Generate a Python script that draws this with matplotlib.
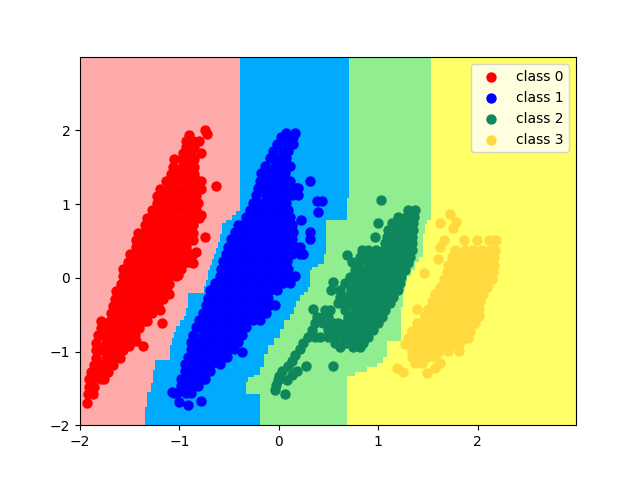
import matplotlib

matplotlib.use("Agg")
import matplotlib.pyplot as plt
import numpy as np
from matplotlib.colors import ListedColormap

# decision boundaries: (lowest y of the step, x of the boundary)
boundary_01 = [(1.33, -0.393), (0.92, -0.386), (0.86, -0.426), (0.80, -0.477), (0.76, -0.52),
               (0.60, -0.575), (0.50, -0.59), (0.42, -0.605), (0.33, -0.625), (0.244, -0.645),
               (0.17, -0.665), (0.108, -0.685), (0.04, -0.70), (-0.027, -0.716), (-0.11, -0.73),
               (-0.205, -0.746), (-0.30, -0.90), (-0.40, -0.91), (-0.50, -0.925), (-0.57, -0.95),
               (-0.64, -0.99), (-0.72, -1.02), (-0.80, -1.05), (-0.90, -1.06), (-1.11, -1.08),
               (-1.25, -1.24), (-1.43, -1.27), (-1.55, -1.29), (-1.65, -1.32), (-1.745, -1.33),
               (-2.1, -1.35)]
boundary_12 = [(1.10, 0.716), (0.80, 0.682), (0.34, 0.474), (0.2, 0.447), (0.16, 0.40),
               (0.12, 0.34), (-0.12, 0.31), (-0.18, 0.29), (-0.23, 0.25), (-0.31, 0.22),
               (-0.39, 0.18), (-0.48, 0.15), (-0.57, 0.11), (-0.68, 0.06), (-0.80, 0.01),
               (-0.91, -0.05), (-1.02, -0.11), (-1.20, -0.15), (-1.30, -0.19), (-1.35, -0.24),
               (-1.40, -0.30), (-1.57, -0.333), (-2.1, -0.185)]
boundary_23 = [(0.786, 1.53), (0.73, 1.49), (0.60, 1.475), (0.285, 1.457), (0.22, 1.42),
               (0.108, 1.37), (0.03, 1.33), (-0.05, 1.30), (-0.163, 1.28), (-0.39, 1.255),
               (-0.84, 1.23), (-1.07, 1.09), (-1.15, 1.045), (-1.2, 1.0), (-1.27, 0.90),
               (-1.33, 0.78), (-1.38, 0.70), (-2.1, 0.695)]

# points listed row by row: (y, [x, x, ...])
class0_rows = [
    (-1.69, [-1.93]),
    (-1.58, [-1.92, -1.87]),
    (-1.475, [-1.905, -1.855]),
    (-1.375, [-1.905, -1.87, -1.785, -1.754]),
    (-1.275, [-1.89, -1.828, -1.743, -1.72]),
    (-1.175, [-1.855, -1.785, -1.70, -1.67]),
    (-1.08, [-1.84, -1.743, -1.658, -1.60]),
    (-0.98, [-1.84, -1.785, -1.70, -1.615, -1.57]),
    (-0.88, [-1.84, -1.743, -1.658, -1.573, -1.52]),
    (-0.78, [-1.82, -1.785, -1.70, -1.615, -1.53, -1.445]),
    (-0.68, [-1.79, -1.743, -1.658, -1.573, -1.488, -1.403]),
    (-0.58, [-1.79, -1.70, -1.615, -1.53, -1.445, -1.36, -1.33]),
    (-0.48, [-1.69, -1.658, -1.573, -1.488, -1.403, -1.318, -1.28]),
    (-0.38, [-1.67, -1.615, -1.53, -1.445, -1.36, -1.275, -1.22]),
    (-0.28, [-1.65, -1.573, -1.488, -1.403, -1.318, -1.233, -1.17]),
    (-0.18, [-1.64, -1.615, -1.53, -1.445, -1.36, -1.275, -1.19, -1.12]),
    (-0.08, [-1.59, -1.573, -1.488, -1.403, -1.318, -1.233, -1.148, -1.10]),
    (0.02, [-1.57, -1.53, -1.445, -1.36, -1.275, -1.19, -1.105, -1.03]),
    (0.12, [-1.57, -1.488, -1.403, -1.318, -1.233, -1.148, -1.063, -0.98]),
    (0.22, [-1.52, -1.445, -1.36, -1.275, -1.19, -1.105, -1.02, -0.935, -0.90]),
    (0.32, [-1.50, -1.403, -1.318, -1.233, -1.148, -1.063, -0.978, -0.893, -0.86]),
    (0.415, [-1.435, -1.36, -1.275, -1.19, -1.105, -1.02, -0.935]),
    (0.515, [-1.435, -1.403, -1.318, -1.233, -1.148, -1.063, -0.978, -0.893, -0.86]),
    (0.615, [-1.42, -1.36, -1.275, -1.19, -1.105, -1.02, -0.935, -0.86]),
    (0.715, [-1.35, -1.318, -1.233, -1.148, -1.063, -0.978, -0.893, -0.86]),
    (0.815, [-1.33, -1.275, -1.19, -1.105, -1.02, -0.935, -0.85, -0.80]),
    (0.915, [-1.28, -1.233, -1.148, -1.063, -0.978, -0.893, -0.83]),
    (1.01, [-1.23, -1.19, -1.105, -1.02, -0.935, -0.85, -0.81]),
    (1.11, [-1.23, -1.148, -1.063, -0.978, -0.893, -0.83]),
    (1.21, [-1.20, -1.105, -1.02, -0.935, -0.85, -0.78]),
    (1.31, [-1.13, -1.063, -0.978, -0.893, -0.808, -0.78]),
    (1.41, [-1.08, -1.02, -0.935, -0.85]),
    (1.51, [-1.065, -0.978, -0.893, -0.85]),
    (1.61, [-1.05, -0.97, -0.90, -0.85]),
    (1.69, [-0.96, -0.88, -0.78]),
    (1.78, [-0.93, -0.85]),
    (1.86, [-0.93, -0.86, -0.80]),
    (1.94, [-0.90]),
    (1.95, [-0.72]),
    (2.01, [-0.746]),
    # stragglers on the right edge
    (-0.93, [-1.368]), (-0.86, [-1.435]), (-0.92, [-1.51]), (-0.615, [-1.173]),
    (-0.44, [-1.20]), (-0.217, [-1.10]), (0.04, [-1.015]), (0.207, [-0.864]),
    (0.357, [-0.83]), (0.56, [-0.746]), (1.25, [-0.63]), (0.85, [-0.78]),
]

class1_rows = [
    (-1.72, [-0.914]),
    (-1.68, [-1.00]),
    (-1.67, [-0.78]),
    (-1.55, [-1.075]),
    (-1.565, [-1.05, -1.02, -0.935, -0.88]),
    (-1.465, [-0.98, -0.893, -0.81]),
    (-1.365, [-0.98, -0.935, -0.85, -0.765, -0.746]),
    (-1.265, [-0.947, -0.893, -0.808, -0.723, -0.695]),
    (-1.165, [-0.947, -0.85, -0.765, -0.68, -0.595]),
    (-1.07, [-0.914, -0.893, -0.808, -0.723, -0.638, -0.553, -0.52]),
    (-1.01, [-0.37]),
    (-0.97, [-0.88, -0.85, -0.765, -0.68, -0.595, -0.51, -0.453]),
    (-0.87, [-0.88, -0.808, -0.723, -0.638, -0.553, -0.468, -0.41]),
    (-0.77, [-0.863, -0.765, -0.68, -0.595, -0.51, -0.425, -0.366]),
    (-0.67, [-0.836, -0.808, -0.723, -0.638, -0.553, -0.468, -0.383, -0.326]),
    (-0.57, [-0.80, -0.765, -0.68, -0.595, -0.51, -0.425, -0.34, -0.255, -0.19]),
    (-0.47, [-0.763, -0.723, -0.638, -0.553, -0.468, -0.383, -0.298, -0.213, -0.124]),
    (-0.37, [-0.73, -0.68, -0.595, -0.51, -0.425, -0.34, -0.255, -0.17, -0.085, -0.04]),
    (-0.27, [-0.71, -0.638, -0.553, -0.468, -0.383, -0.298, -0.213, -0.128, -0.107]),
    (-0.17, [-0.69, -0.68, -0.595, -0.51, -0.425, -0.34, -0.255, -0.17, -0.085, -0.023]),
    (-0.07, [-0.645, -0.553, -0.468, -0.383, -0.298, -0.213, -0.128, -0.043, 0.043, 0.11]),
    (0.027, [-0.595, -0.51, -0.425, -0.34, -0.255, -0.17, -0.085, 0.0, 0.085, 0.16]),
    (0.126, [-0.578, -0.553, -0.468, -0.383, -0.298, -0.213, -0.128, -0.043, 0.043, 0.094]),
    (0.225, [-0.56, -0.51, -0.425, -0.34, -0.255, -0.17, -0.085, 0.0, 0.085]),
    (0.325, [-0.527, -0.468, -0.383, -0.298, -0.213, -0.128, -0.043, 0.043, 0.128, 0.213, 0.245]),
    (0.424, [-0.51, -0.425, -0.34, -0.255, -0.17, -0.085, 0.0, 0.085, 0.17, 0.21]),
    (0.524, [-0.477, -0.468, -0.383, -0.298, -0.213, -0.128, -0.043, 0.043, 0.128, 0.313]),
    (0.623, [-0.443, -0.425, -0.34, -0.255, -0.17, -0.085, 0.0, 0.085, 0.145, 0.313]),
    (0.723, [-0.41, -0.383, -0.298, -0.213, -0.128, -0.043, 0.043, 0.128]),
    (0.786, [0.222]),
    (0.822, [-0.326, -0.255, -0.17, -0.085, 0.0, 0.085, 0.11]),
    (0.90, [0.397]),
    (0.922, [-0.292, -0.213, -0.128, -0.043, 0.043, 0.094]),
    (1.02, [-0.26, -0.17, -0.085, 0.0, 0.077]),
    (1.04, [0.38, 0.43]),
    (1.12, [-0.225, -0.128, -0.043, 0.043, 0.128, 0.195]),
    (1.22, [-0.208, -0.17, -0.085, 0.0, 0.085, 0.17, 0.195]),
    (1.32, [-0.19, -0.128, -0.043, 0.043, 0.11, 0.313]),
    (1.42, [-0.175, -0.085, 0.0, 0.06]),
    (1.52, [-0.14, -0.043, 0.043, 0.11]),
    (1.62, [-0.09, 0.0, 0.077]),
    (1.72, [-0.057, 0.043, 0.094]),
    (1.82, [-0.023, 0.085, 0.145]),
    (1.915, [0.027, 0.09, 0.145]),
    (1.96, [0.077, 0.16]),
]

class2_rows = [
    (0.92, [1.304, 1.37]),
    (0.83, [1.203, 1.275, 1.36]),
    (0.74, [1.136, 1.233, 1.318, 1.354]),
    (0.65, [1.10, 1.19, 1.275, 1.354]),
    (0.56, [1.085, 1.148, 1.233, 1.318, 1.337]),
    (0.47, [1.07, 1.105, 1.19, 1.275, 1.337]),
    (0.38, [0.833, 0.893, 0.978, 1.063, 1.148, 1.233, 1.318, 1.337]),
    (0.29, [0.817, 0.85, 0.935, 1.02, 1.105, 1.19, 1.275, 1.32]),
    (0.20, [0.80, 0.893, 0.978, 1.063, 1.148, 1.233, 1.30]),
    (0.108, [0.766, 0.85, 0.935, 1.02, 1.105, 1.19, 1.27]),
    (0.018, [0.716, 0.808, 0.893, 0.978, 1.063, 1.148, 1.233]),
    (-0.073, [0.665, 0.765, 0.85, 0.935, 1.02, 1.105, 1.19, 1.22]),
    (-0.163, [0.615, 0.723, 0.808, 0.893, 0.978, 1.063, 1.148, 1.203]),
    (-0.253, [0.615, 0.68, 0.765, 0.85, 0.935, 1.02, 1.105, 1.15]),
    (-0.344, [0.598, 0.638, 0.723, 0.808, 0.893, 0.978, 1.063, 1.12]),
    (-0.434, [0.464, 0.514, 0.665, 0.765, 0.85, 0.935, 1.02, 1.07]),
    (-0.525, [0.38, 0.44, 0.50, 0.70, 0.723, 0.808, 0.893, 0.978, 1.035]),
    (-0.615, [0.363, 0.447, 0.50, 0.548, 0.60, 0.68, 0.765, 0.85, 0.935, 1.0]),
    (-0.705, [0.33, 0.50, 0.548, 0.60, 0.665, 0.723, 0.808, 0.893, 0.95]),
    (-0.796, [0.296, 0.36, 0.413, 0.50, 0.58, 0.65, 0.68, 0.765, 0.85, 0.90]),
    (-0.886, [0.245, 0.565, 0.68, 0.723, 0.808, 0.85]),
    (-0.94, [0.615, 0.75, 0.817]),
    # lower tail and loose points
    (-0.97, [0.21]), (-1.04, [0.16]), (-1.12, [0.13]), (-1.20, [0.09]),
    (-1.19, [0.272, 0.547]), (-1.26, [0.03, 0.18]), (-1.31, [0.13]), (-1.33, [0.0]),
    (-1.38, [-0.01, 0.08]), (-1.45, [-0.03]), (-1.52, [-0.04]), (-1.58, [0.067]),
    (1.05, [1.03]), (0.75, [1.0]), (0.55, [0.97]), (0.31, [0.69]), (0.21, [0.74]),
    (-0.06, [0.55]), (-0.17, [0.53]), (-0.42, [0.346]),
]

class3_rows = [
    (0.38, [1.774, 1.87, 1.955, 2.04, 2.125, 2.177]),
    (0.28, [1.74, 1.828, 1.913, 1.998, 2.083, 2.168]),
    (0.18, [1.707, 1.785, 1.87, 1.955, 2.04, 2.125, 2.17]),
    (0.08, [1.69, 1.743, 1.828, 1.913, 1.998, 2.083, 2.16]),
    (-0.018, [1.663, 1.70, 1.785, 1.87, 1.955, 2.04, 2.125, 2.144]),
    (-0.117, [1.623, 1.658, 1.743, 1.828, 1.913, 1.998, 2.083, 2.093]),
    (-0.217, [1.573, 1.615, 1.70, 1.785, 1.87, 1.955, 2.04, 2.053]),
    (-0.316, [1.539, 1.573, 1.658, 1.743, 1.828, 1.913, 1.998, 2.02]),
    (-0.415, [1.505, 1.53, 1.615, 1.70, 1.785, 1.87, 1.955, 2.01]),
    (-0.515, [1.47, 1.488, 1.573, 1.658, 1.743, 1.828, 1.913, 1.998, 2.01]),
    (-0.615, [1.388, 1.445, 1.53, 1.615, 1.70, 1.785, 1.87, 1.955, 1.976]),
    (-0.714, [1.337, 1.403, 1.488, 1.573, 1.658, 1.743, 1.828, 1.913, 1.925]),
    (-0.813, [1.304, 1.36, 1.445, 1.53, 1.615, 1.70, 1.785, 1.87, 1.908]),
    (-0.895, [1.27, 1.318, 1.403, 1.488, 1.573, 1.658, 1.743, 1.808]),
    (-0.985, [1.337, 1.36, 1.445, 1.53, 1.615, 1.707]),
    (-1.075, [1.337, 1.403, 1.488, 1.573]),
    (-1.157, [1.37, 1.44]),
    # loose points around the cluster
    (0.87, [1.72]), (0.75, [1.623]), (0.76, [1.784]), (0.67, [1.757]), (0.515, [1.657]),
    (0.425, [1.623]), (0.515, [1.865, 1.993, 2.117, 2.188]), (0.253, [1.606]),
    (0.063, [1.465]), (-0.42, [1.388]), (-1.216, [1.186]), (-1.27, [1.253]),
    (-1.29, [1.489]), (-1.225, [1.573]), (-1.157, [1.623]), (-0.985, [1.815]),
]

class_labels = ["class 0", "class 1", "class 2", "class 3"]
region_colors = ["#FFAAAA", "#00AAFF", "#90EE90", "#FFFF66"]
point_colors = ["#FF0000", "#0000FF", "#0E875C", "#FFD93D"]


def flatten(rows):
    xs, ys = [], []
    for y, row_xs in rows:
        xs.extend(row_xs)
        ys.extend([y] * len(row_xs))
    return xs, ys


def boundary_at(boundary, y):
    for low_y, x in boundary:
        if y >= low_y:
            return x
    return boundary[-1][1]


if __name__ == "__main__":
    grid_x = np.arange(-2.0, 3.0, 0.02)
    grid_y = np.arange(-2.0, 3.0, 0.02)
    xx, yy = np.meshgrid(grid_x, grid_y)

    zz = np.zeros(xx.shape)
    for i, y in enumerate(grid_y):
        zz[i, :] = (
            (grid_x >= boundary_at(boundary_01, y)).astype(int)
            + (grid_x >= boundary_at(boundary_12, y)).astype(int)
            + (grid_x >= boundary_at(boundary_23, y)).astype(int)
        )

    f = plt.figure(figsize=(6.4, 4.78), dpi=100)
    ax = f.add_subplot()
    ax.pcolormesh(xx, yy, zz, cmap=ListedColormap(region_colors), shading="auto", vmin=0, vmax=3)

    for rows, color, label in zip(
        [class0_rows, class1_rows, class2_rows, class3_rows], point_colors, class_labels
    ):
        xs, ys = flatten(rows)
        ax.scatter(xs, ys, c=color, s=42, label=label)

    ax.set_xlim(-2.0, 2.99)
    ax.set_ylim(-2.0, 2.99)
    ax.set_xticks([-2, -1, 0, 1, 2])
    ax.set_yticks([-2, -1, 0, 1, 2])
    ax.legend(loc="upper right")

    f.savefig("out.png", dpi=100)
    plt.close(f)
